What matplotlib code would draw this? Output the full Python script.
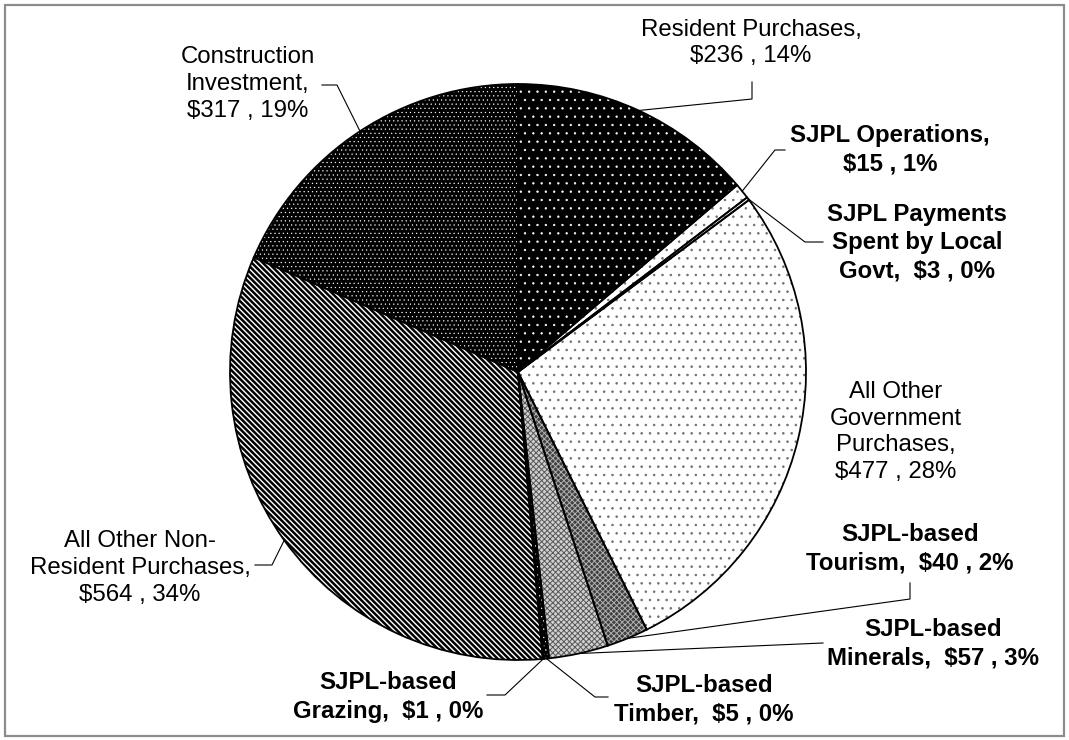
import numpy as np
import matplotlib.pyplot as plt
from matplotlib.patches import Rectangle

plt.rcParams['font.family'] = ['Liberation Sans', 'DejaVu Sans']

W, H = 1069, 740

# data, clockwise from 12 o'clock
names = ['Resident Purchases', 'SJPL Operations', 'SJPL Payments\nSpent by Local\nGovt',
         'All Other\nGovernment\nPurchases', 'SJPL-based\nTourism', 'SJPL-based\nMinerals',
         'SJPL-based\nTimber', 'SJPL-based\nGrazing', 'All Other Non-\nResident Purchases',
         'Construction\nInvestment']
values = [236, 15, 3, 477, 40, 57, 5, 1, 564, 317]
percents = [14, 1, 0, 28, 2, 3, 0, 0, 34, 19]
seps = ['\n', '\n', '  ', '\n', '  ', '  ', '  ', '  ', '\n', '\n']
bold = [False, True, True, False, True, True, True, True, False, False]

# fill styles: face, hatch, hatch colour, hatch linewidth
styles = [('black', '..', 'white', 0.45),
          ('white', '..', '#707070', 0.6),
          ('white', '..', '#707070', 0.6),
          ('white', '..', '#707070', 0.6),
          ('#404040', 'xxxxxx', '#b0b0b0', 0.7),
          ('#d0d0d0', 'xxxxxx', '#585858', 0.7),
          ('black', '....', 'white', 0.4),
          ('white', '', 'white', 0.4),
          ('white', '\\' * 6, 'black', 1.8),
          ('black', '....', 'white', 0.35)]

# label layout in picture pixels (x, y from top)
label_xy = [(751, 43), (890, 150), (917, 243), (896, 432), (910, 549), (933, 644),
            (704, 700), (388, 697), (140, 568), (248, 84)]
# leader elbow and end points (None = no leader)
leaders = [[(752, 99), (752, 82)], [(775, 150), (785, 150)], [(805, 242), (823, 242)], None,
           [(910, 599), (910, 583)], [(823, 643)], [(595, 697), (608, 697)],
           [(505, 695), (487, 695)], [(272, 565), (255, 565)], [(337, 85), (322, 85)]]

cx, cy, R = 518, 372, 288

fig = plt.figure(figsize=(W / 100, H / 100), dpi=100)
ax = fig.add_axes([0, 0, 1, 1])

fills, _ = ax.pie(values, radius=R, center=(cx, H - cy), startangle=90,
                  counterclock=False, wedgeprops=dict(linewidth=0))
for w, (fc, hatch, hc, hlw) in zip(fills, styles):
    w.set_facecolor(fc)
    w.set_edgecolor(hc)
    w.set_hatch(hatch)
    if hasattr(w, 'set_hatch_linewidth'):
        w.set_hatch_linewidth(hlw)

outline, _ = ax.pie(values, radius=R, center=(cx, H - cy), startangle=90,
                    counterclock=False,
                    wedgeprops=dict(fill=False, edgecolor='black', linewidth=1.3))

for i, w in enumerate(outline):
    txt = f'{names[i]},{seps[i]}${values[i]} , {percents[i]}%'
    x, y = label_xy[i]
    ax.text(x, H - y, txt, ha='center', va='center', multialignment='center',
            fontsize=17.3, fontweight='bold' if bold[i] else 'normal',
            linespacing=1.28)
    if leaders[i] is None:
        continue
    mid = np.deg2rad((w.theta1 + w.theta2) / 2)
    px = [w.center[0] + w.r * np.cos(mid)] + [p[0] for p in leaders[i]]
    py = [w.center[1] + w.r * np.sin(mid)] + [H - p[1] for p in leaders[i]]
    ax.plot(px, py, color='black', linewidth=0.8)

ax.add_patch(Rectangle((5, 4), W - 10, H - 9, fill=False, edgecolor='#8c8c8c', linewidth=1.6))

ax.set_xlim(0, W)
ax.set_ylim(0, H)
ax.set_aspect('equal')
ax.axis('off')

fig.savefig('out.png', dpi=100)
